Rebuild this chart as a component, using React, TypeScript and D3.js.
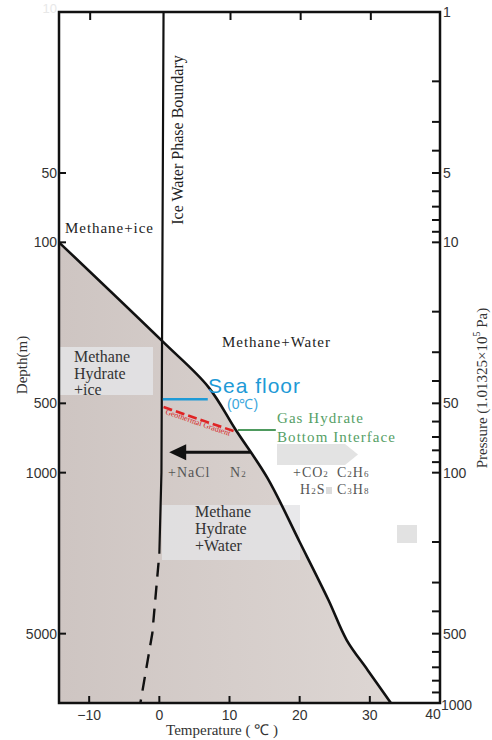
import { useEffect, useRef } from 'react';
import * as d3 from 'd3';

// hydrate stability boundary
const hydrateTemp = [-14.3, 0.5, 7.0, 10.9, 15.4, 20.0, 24.1, 26.7, 29.7, 33.0];
const hydrateDepth = [100, 270, 425, 653, 1054, 2000, 3570, 5330, 7200, 10000];

// ice / water phase boundary (solid part, then dashed part)
const iceTemp = [0.6, 0.3, 0.0];
const iceDepth = [10, 1000, 2250];
const iceDashTemp = [0.0, -1.0, -2.7];
const iceDashDepth = [2250, 4980, 10000];

const xTicks = [-10, 0, 10, 20, 30, 40];
const xTopTicks = [-10, 10, 20, 30];
const depthTicks = [50, 100, 500, 1000, 5000];
const pressureLabels = [1, 5, 10, 50, 100, 500, 1000];

// annotation positions in data units (temperature, depth)
const seaFloorTemp = [0.5, 6.9];
const seaFloorDepth = 480;
const gradientTemp = [0.6, 10.6];
const gradientDepth = [519, 660];
const ghbiTemp = [11.2, 16.6];
const ghbiDepth = 653;
const arrowTemp = [13.0, 1.4];
const arrowDepth = 815;

const W = 492;
const H = 740;
const serif = '"Liberation Serif", "Times New Roman", serif';
const sans = '"Liberation Sans", Arial, sans-serif';

const App = () => {
  const ref = useRef<SVGSVGElement>(null);

  useEffect(() => {
    if (!ref.current) return;
    const svg = d3.select(ref.current);
    svg.selectAll('*').remove();

    const x = d3.scaleLinear().domain([-14.3, 40]).range([59, 440]);
    const y = d3.scaleLog().domain([10, 10000]).range([12, 703]);
    const p = d3.scaleLog().domain([1, 1000]).range([12, 703]);

    const defs = svg.append('defs');
    const grad = defs
      .append('linearGradient')
      .attr('id', 'hydFill')
      .attr('x1', '0%')
      .attr('x2', '100%')
      .attr('y1', '0%')
      .attr('y2', '0%');
    grad.append('stop').attr('offset', '0%').attr('stop-color', '#cec5c2');
    grad.append('stop').attr('offset', '100%').attr('stop-color', '#ddd6d3');

    const pts: [number, number][] = hydrateTemp.map((t, i) => [t, hydrateDepth[i]]);
    const line = d3
      .line<[number, number]>()
      .x((d) => x(d[0]))
      .y((d) => y(d[1]))
      .curve(d3.curveCatmullRom.alpha(0.5));

    // filled hydrate stability field
    svg
      .append('path')
      .attr('d', line(pts) + `L${x(-14.3)},${y(10000)}Z`)
      .attr('fill', 'url(#hydFill)');

    // gray label boxes
    svg
      .append('rect')
      .attr('x', 60)
      .attr('y', 347)
      .attr('width', 93)
      .attr('height', 48)
      .attr('fill', '#e4e4e6')
      .attr('opacity', 0.85);
    svg
      .append('rect')
      .attr('x', 162)
      .attr('y', 505)
      .attr('width', 138)
      .attr('height', 55)
      .attr('fill', '#e4e4e6')
      .attr('opacity', 0.8);
    svg
      .append('rect')
      .attr('x', 397)
      .attr('y', 525)
      .attr('width', 20)
      .attr('height', 18)
      .attr('fill', '#e2e2e2');

    // gray arrow to the right
    const gx0 = 277, gx1 = 345, gx2 = 358, gy0 = 444, gy1 = 465;
    svg
      .append('path')
      .attr(
        'd',
        `M${gx0},${gy0}L${gx1},${gy0}L${gx2},${(gy0 + gy1) / 2}L${gx1},${gy1}L${gx0},${gy1}Z`,
      )
      .attr('fill', '#e3e3e3');

    // boundary curve
    svg
      .append('path')
      .attr('d', line(pts))
      .attr('fill', 'none')
      .attr('stroke', '#111')
      .attr('stroke-width', 2.6);

    // ice line
    const iceLine = d3
      .line<number>()
      .x((d) => x(d))
      .y((_, i) => y(iceDepth[i]));
    svg
      .append('path')
      .attr('d', iceLine(iceTemp))
      .attr('fill', 'none')
      .attr('stroke', '#111')
      .attr('stroke-width', 2.2);
    const iceDash = d3
      .line<number>()
      .x((d) => x(d))
      .y((_, i) => y(iceDashDepth[i]));
    svg
      .append('path')
      .attr('d', iceDash(iceDashTemp))
      .attr('fill', 'none')
      .attr('stroke', '#111')
      .attr('stroke-width', 2.4)
      .attr('stroke-dasharray', '14,9')
      .attr('stroke-dashoffset', -9);

    // frame
    svg
      .append('rect')
      .attr('x', 59)
      .attr('y', 12)
      .attr('width', 381)
      .attr('height', 691)
      .attr('fill', 'none')
      .attr('stroke', '#111')
      .attr('stroke-width', 2.5);

    // bottom ticks + labels
    svg
      .selectAll('.xt')
      .data(xTicks.filter((t) => t < 40))
      .enter()
      .append('line')
      .attr('x1', (d) => x(d))
      .attr('x2', (d) => x(d))
      .attr('y1', 703)
      .attr('y2', 696)
      .attr('stroke', '#111')
      .attr('stroke-width', 2);
    svg
      .selectAll('.xl')
      .data(xTicks)
      .enter()
      .append('text')
      .attr('x', (d) => (d === 40 ? x(d) - 7 : x(d)))
      .attr('y', (d) => (d === 40 ? 719 : 720))
      .attr('text-anchor', 'middle')
      .attr('font-family', sans)
      .attr('font-size', 14)
      .attr('fill', '#333')
      .text((d) => (d < 0 ? `\u2212${Math.abs(d)}` : `${d}`));
    svg
      .selectAll('.xtt')
      .data(xTopTicks)
      .enter()
      .append('line')
      .attr('x1', (d) => x(d) + 1)
      .attr('x2', (d) => x(d) + 1)
      .attr('y1', 12)
      .attr('y2', 20)
      .attr('stroke', '#111')
      .attr('stroke-width', 2);

    // left depth ticks
    svg
      .selectAll('.yt')
      .data(depthTicks)
      .enter()
      .append('line')
      .attr('x1', 59)
      .attr('x2', 66)
      .attr('y1', (d) => y(d))
      .attr('y2', (d) => y(d))
      .attr('stroke', '#111')
      .attr('stroke-width', 2);
    svg
      .selectAll('.yl')
      .data(depthTicks)
      .enter()
      .append('text')
      .attr('x', 57)
      .attr('y', (d) => y(d))
      .attr('dy', '0.36em')
      .attr('text-anchor', 'end')
      .attr('font-family', sans)
      .attr('font-size', 14)
      .attr('fill', '#333')
      .text((d) => d);
    svg
      .append('text')
      .attr('x', 57)
      .attr('y', 12)
      .attr('dy', '0.1em')
      .attr('text-anchor', 'end')
      .attr('font-family', sans)
      .attr('font-size', 13)
      .attr('fill', '#e8e8e8')
      .text('10');

    // right pressure ticks (log minor ticks)
    const pTicks = p.ticks().filter((d) => d > 1 && d < 1000);
    svg
      .selectAll('.pt')
      .data(pTicks)
      .enter()
      .append('line')
      .attr('x1', 432)
      .attr('x2', 440)
      .attr('y1', (d) => p(d))
      .attr('y2', (d) => p(d))
      .attr('stroke', '#111')
      .attr('stroke-width', 2);
    svg
      .selectAll('.pl')
      .data(pressureLabels)
      .enter()
      .append('text')
      .attr('x', (d) => (d === 1000 ? 441 : 443))
      .attr('y', (d) => (d === 1000 ? p(d) + 2 : p(d)))
      .attr('dy', '0.36em')
      .attr('font-family', sans)
      .attr('font-size', 14)
      .attr('fill', '#333')
      .text((d) => d);

    // axis titles
    svg
      .append('text')
      .attr('transform', `translate(222,735)`)
      .attr('text-anchor', 'middle')
      .attr('font-family', serif)
      .attr('font-size', 15)
      .attr('fill', '#333')
      .text('Temperature ( \u2103 )');
    svg
      .append('text')
      .attr('transform', 'translate(27,365) rotate(-90)')
      .attr('text-anchor', 'middle')
      .attr('font-family', serif)
      .attr('font-size', 15)
      .attr('fill', '#333')
      .text('Depth(m)');
    const pt = svg
      .append('text')
      .attr('transform', 'translate(487,388) rotate(-90)')
      .attr('text-anchor', 'middle')
      .attr('font-family', serif)
      .attr('font-size', 15)
      .attr('fill', '#333');
    pt.append('tspan').text('Pressure (1.01325\u00d710');
    pt.append('tspan').attr('dy', -7).attr('font-size', 10).text('5');
    pt.append('tspan').attr('dy', 7).text(' Pa)');

    svg
      .append('text')
      .attr('transform', 'translate(183,140) rotate(-90)')
      .attr('text-anchor', 'middle')
      .attr('font-family', serif)
      .attr('font-size', 16)
      .attr('fill', '#222')
      .text('Ice Water Phase Boundary');

    const label = (tx: number, ty: number, s: string, size = 15, fill = '#222', fam = serif) =>
      svg
        .append('text')
        .attr('x', tx)
        .attr('y', ty)
        .attr('font-family', fam)
        .attr('font-size', size)
        .attr('fill', fill)
        .text(s);

    label(65, 233, 'Methane+ice').attr('textLength', 88);
    label(222, 347, 'Methane+Water').attr('textLength', 108);
    label(74, 362, 'Methane', 16, '#333');
    label(74, 379, 'Hydrate', 16, '#333');
    label(74, 395, '+ice', 16, '#333');
    label(195, 517, 'Methane', 16, '#333');
    label(195, 534, 'Hydrate', 16, '#333');
    label(195, 551, '+Water', 16, '#333');

    // sea floor
    svg
      .append('line')
      .attr('x1', x(seaFloorTemp[0]))
      .attr('x2', x(seaFloorTemp[1]))
      .attr('y1', y(seaFloorDepth))
      .attr('y2', y(seaFloorDepth))
      .attr('stroke', '#1e9ad6')
      .attr('stroke-width', 2.6);
    label(208, 393, 'Sea floor', 21, '#1e9ad6', sans).attr('textLength', 92);
    label(227, 409, '(0\u2103)', 14, '#3aa6dc', sans);

    // geothermal gradient
    svg
      .append('line')
      .attr('x1', x(gradientTemp[0]))
      .attr('x2', x(gradientTemp[1]))
      .attr('y1', y(gradientDepth[0]))
      .attr('y2', y(gradientDepth[1]))
      .attr('stroke', '#e02424')
      .attr('stroke-width', 2.6)
      .attr('stroke-dasharray', '9,4');
    const ang =
      (Math.atan2(
        y(gradientDepth[1]) - y(gradientDepth[0]),
        x(gradientTemp[1]) - x(gradientTemp[0]),
      ) *
        180) /
      Math.PI;
    svg
      .append('text')
      .attr('transform', `translate(165,414) rotate(${ang})`)
      .attr('font-family', serif)
      .attr('font-size', 8)
      .attr('fill', '#d82020')
      .attr('textLength', 68)
      .text('Geothermal Gradient');

    // gas hydrate bottom interface
    svg
      .append('line')
      .attr('x1', x(ghbiTemp[0]))
      .attr('x2', x(ghbiTemp[1]))
      .attr('y1', y(ghbiDepth))
      .attr('y2', y(ghbiDepth))
      .attr('stroke', '#4e9a5e')
      .attr('stroke-width', 2);
    label(277, 423, 'Gas Hydrate', 15, '#56a066').attr('textLength', 86);
    label(277, 442, 'Bottom Interface', 15, '#56a066').attr('textLength', 118);

    // black arrow
    const ax0 = x(arrowTemp[0]);
    const ax1 = x(arrowTemp[1]);
    const ay = y(arrowDepth);
    svg
      .append('line')
      .attr('x1', ax0)
      .attr('x2', ax1 + 14)
      .attr('y1', ay)
      .attr('y2', ay)
      .attr('stroke', '#111')
      .attr('stroke-width', 3);
    svg
      .append('path')
      .attr('d', `M${ax1},${ay}L${ax1 + 17},${ay - 8}L${ax1 + 17},${ay + 8}Z`)
      .attr('fill', '#111');

    // gas labels
    const gas = (tx: number, ty: number, parts: [string, boolean][]) => {
      const t = svg
        .append('text')
        .attr('x', tx)
        .attr('y', ty)
        .attr('font-family', serif)
        .attr('font-size', 14)
        .attr('fill', '#555')
        .attr('letter-spacing', 1);
      parts.forEach(([s, sub]) => {
        t.append('tspan')
          .attr('font-size', sub ? 9 : 14)
          .text(s);
      });
      return t;
    };
    gas(168, 477, [['+NaCl', false]]);
    gas(230, 477, [['N', false], ['2', true]]);
    gas(293, 477, [['+CO', false], ['2', true]]);
    gas(337, 477, [['C', false], ['2', true], ['H', false], ['6', true]]);
    gas(300, 494, [['H', false], ['2', true], ['S', false]]);
    gas(337, 494, [['C', false], ['3', true], ['H', false], ['8', true]]);
    svg
      .append('rect')
      .attr('x', 326)
      .attr('y', 487)
      .attr('width', 6)
      .attr('height', 7)
      .attr('fill', '#dcdcdc');
  }, []);

  return (
    <div style={{ position: 'absolute', left: 0, top: 0 }}>
      <svg ref={ref} width={W} height={H} style={{ display: 'block', background: '#fff' }} />
    </div>
  );
};

export default App;
